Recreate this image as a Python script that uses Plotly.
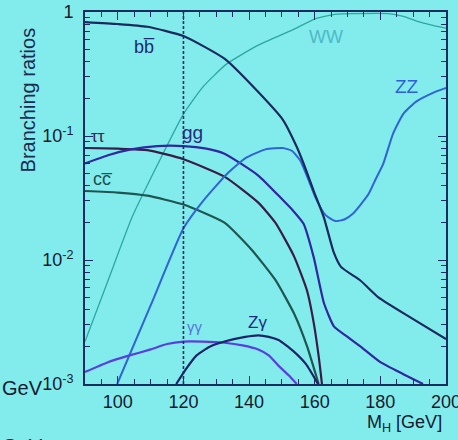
import plotly.graph_objects as go

# ---- data (Higgs mass in GeV, branching ratio) ----
mh_bb = [90, 100, 109, 120, 132.5, 142.8, 150.3, 154.4, 156.6, 159.7, 162.8, 165.8, 168, 174, 179.4, 189.5, 200]
br_bb = [0.83, 0.80, 0.76, 0.64, 0.42, 0.226, 0.135, 0.083, 0.060, 0.036, 0.022, 0.0115, 0.0088, 0.0068, 0.0050, 0.0034, 0.0023]

mh_tautau = [90, 100, 109, 120, 132.5, 142.8, 148, 153.7, 157.7, 159.8, 161.3, 162.2]
br_tautau = [0.080, 0.079, 0.077, 0.065, 0.047, 0.029, 0.020, 0.0107, 0.0056, 0.0030, 0.0016, 0.0010]

mh_cc = [90, 100, 109, 120, 132.5, 140.9, 148, 153.7, 157.7, 160.5, 161.2]
br_cc = [0.036, 0.035, 0.033, 0.028, 0.020, 0.012, 0.0069, 0.0037, 0.0020, 0.00115, 0.0010]

mh_gg = [90, 97, 104, 112, 120, 127, 132.5, 142.8, 150, 153.4, 156.6, 159.7, 162.8, 165.9, 170, 174, 180, 187, 193]
br_gg = [0.060, 0.070, 0.078, 0.083, 0.083, 0.079, 0.072, 0.048, 0.031, 0.025, 0.0196, 0.0105, 0.0045, 0.0029, 0.0024, 0.0020, 0.0015, 0.0012, 0.0010]

mh_gamgam = [90, 97, 103.6, 110, 115, 120, 125.8, 132.5, 138, 142.8, 146, 149, 152, 154.5]
br_gamgam = [0.00125, 0.0015, 0.0017, 0.0019, 0.0021, 0.0022, 0.0022, 0.00215, 0.00205, 0.0019, 0.0017, 0.0014, 0.00118, 0.0010]

mh_zgam = [117.8, 120.6, 124, 128, 132.5, 138.8, 142.8, 146, 149, 153.4, 157.4, 161]
br_zgam = [0.0010, 0.0013, 0.0017, 0.0020, 0.0022, 0.0024, 0.00247, 0.0024, 0.00226, 0.00185, 0.00144, 0.0010]

mh_zz = [99.8, 110, 120, 126, 133.1, 138.8, 145, 150.3, 153, 155.5, 158, 160.2, 163.3, 166.3, 169, 171.6, 174, 176.4, 178.6, 180.9, 183.9, 187, 191, 196.2, 200]
br_zz = [0.0010, 0.0043, 0.018, 0.030, 0.049, 0.066, 0.078, 0.080, 0.076, 0.064, 0.045, 0.032, 0.023, 0.0206, 0.0212, 0.0236, 0.028, 0.034, 0.045, 0.060, 0.105, 0.151, 0.19, 0.224, 0.244]

mh_ww = [90, 97, 104.3, 112, 120, 126, 133.1, 142.8, 153.4, 160.3, 166.5, 172, 182.5, 187, 191.3, 196, 200]
br_ww = [0.0022, 0.0068, 0.022, 0.058, 0.15, 0.25, 0.38, 0.54, 0.72, 0.885, 0.96, 0.97, 0.97, 0.92, 0.84, 0.78, 0.74]

x_ticks = [100, 120, 140, 160, 180, 200]
y_ticks = [1, 0.1, 0.01, 0.001]
y_ticktext = ["1", "10<sup>-1</sup>", "10<sup>-2</sup>", "10<sup>-3</sup>"]
marked_mass = 120

BG = "#82ecec"
AX = "#1b2d5e"
FONT = "Liberation Sans, Arial, sans-serif"

series = [
    (mh_ww, br_ww, "#2ea6a0", 1.3),
    (mh_cc, br_cc, "#1f5552", 2.2),
    (mh_tautau, br_tautau, "#3a1c48", 2.2),
    (mh_gg, br_gg, "#3127a0", 2.2),
    (mh_zz, br_zz, "#2f63d6", 2.0),
    (mh_gamgam, br_gamgam, "#5a3fe0", 2.2),
    (mh_zgam, br_zgam, "#1c2466", 2.2),
    (mh_bb, br_bb, "#1b2a5c", 2.2),
]

fig = go.Figure()
for xs, ys, col, w in series:
    fig.add_trace(go.Scatter(x=xs, y=ys, mode="lines",
                             line=dict(color=col, width=w, shape="spline", smoothing=0.5),
                             showlegend=False, hoverinfo="skip"))

fig.add_shape(type="line", x0=marked_mass, x1=marked_mass, y0=0, y1=1, xref="x", yref="paper",
              line=dict(color=AX, width=1.6, dash="3px,2px"))

minor_y = [m * 10 ** e for e in (-3, -2, -1) for m in range(2, 10)]
minor_x = [v for v in range(95, 200, 5) if v % 20 != 0]

fig.update_xaxes(range=[90, 200], tickvals=x_ticks, ticks="inside", ticklen=8, tickwidth=1.3,
                 tickcolor=AX, showline=True, linecolor=AX, linewidth=2, mirror="allticks",
                 showgrid=False, zeroline=False, automargin=False, ticklabeloverflow="allow",
                 tickfont=dict(family=FONT, size=18, color="#141a30"),
                 minor=dict(tickvals=minor_x, ticks="inside", ticklen=5, tickcolor=AX, tickwidth=1.2))
fig.update_yaxes(type="log", range=[-3, 0], tickvals=y_ticks, ticktext=y_ticktext,
                 ticks="inside", ticklen=8, tickwidth=1.3, tickcolor=AX,
                 showline=True, linecolor=AX, linewidth=2, mirror="allticks",
                 showgrid=False, zeroline=False, ticklabelstandoff=6, automargin=False,
                 ticklabeloverflow="allow",
                 tickfont=dict(family=FONT, size=18, color="#141a30"),
                 minor=dict(tickvals=minor_y, ticks="inside", ticklen=5, tickcolor=AX, tickwidth=1.2))

labels = [
    ("bb\u0305", 108, -0.28, "#1e2a6a", 18),
    ("\u03c4\u03c4", 94, -1.0, "#3a2050", 17),
    ("cc\u0305", 95.5, -1.35, "#1d5050", 18),
    ("gg", 122.8, -0.975, "#2a2a80", 19),
    ("WW", 163.4, -0.20, "#4fb8c8", 18),
    ("ZZ", 188, -0.60, "#2f5fd8", 19),
    ("\u03b3\u03b3", 123.5, -2.54, "#5a72e0", 15),
    ("Z\u03b3", 142.5, -2.50, "#1e2a80", 17),
]
for txt, lx, ly, col, sz in labels:
    fig.add_annotation(x=lx, y=ly, xref="x", yref="y", text=txt, showarrow=False,
                       xanchor="center", yanchor="middle",
                       font=dict(family=FONT, size=sz, color=col))

fig.add_annotation(x=-0.158, y=0.765, xref="paper", yref="paper", text="Branching ratios",
                   textangle=-90, showarrow=False, xanchor="center", yanchor="middle",
                   font=dict(family=FONT, size=20, color="#1a2a50"))
fig.add_annotation(x=0.995, y=-0.105, xref="paper", yref="paper", text="M<sub>H</sub> [GeV]",
                   showarrow=False, xanchor="right", yanchor="middle",
                   font=dict(family=FONT, size=18, color="#141a30"))
fig.add_annotation(x=-0.235, y=-0.012, xref="paper", yref="paper", text="GeV", xanchor="left",
                   yanchor="middle", showarrow=False, font=dict(family=FONT, size=20, color="#141a30"))
fig.add_annotation(x=-0.235, y=-0.166, xref="paper", yref="paper", text="GeV", xanchor="left",
                   yanchor="middle", showarrow=False, font=dict(family=FONT, size=20, color="#141a30"))

fig.update_layout(width=458, height=440, margin=dict(l=85, r=12, t=12, b=56),
                  paper_bgcolor=BG, plot_bgcolor=BG, showlegend=False)

fig.write_html("out.html", config={"displayModeBar": False},
               post_script="document.body.style.margin='0';document.body.style.background='%s';" % BG)
